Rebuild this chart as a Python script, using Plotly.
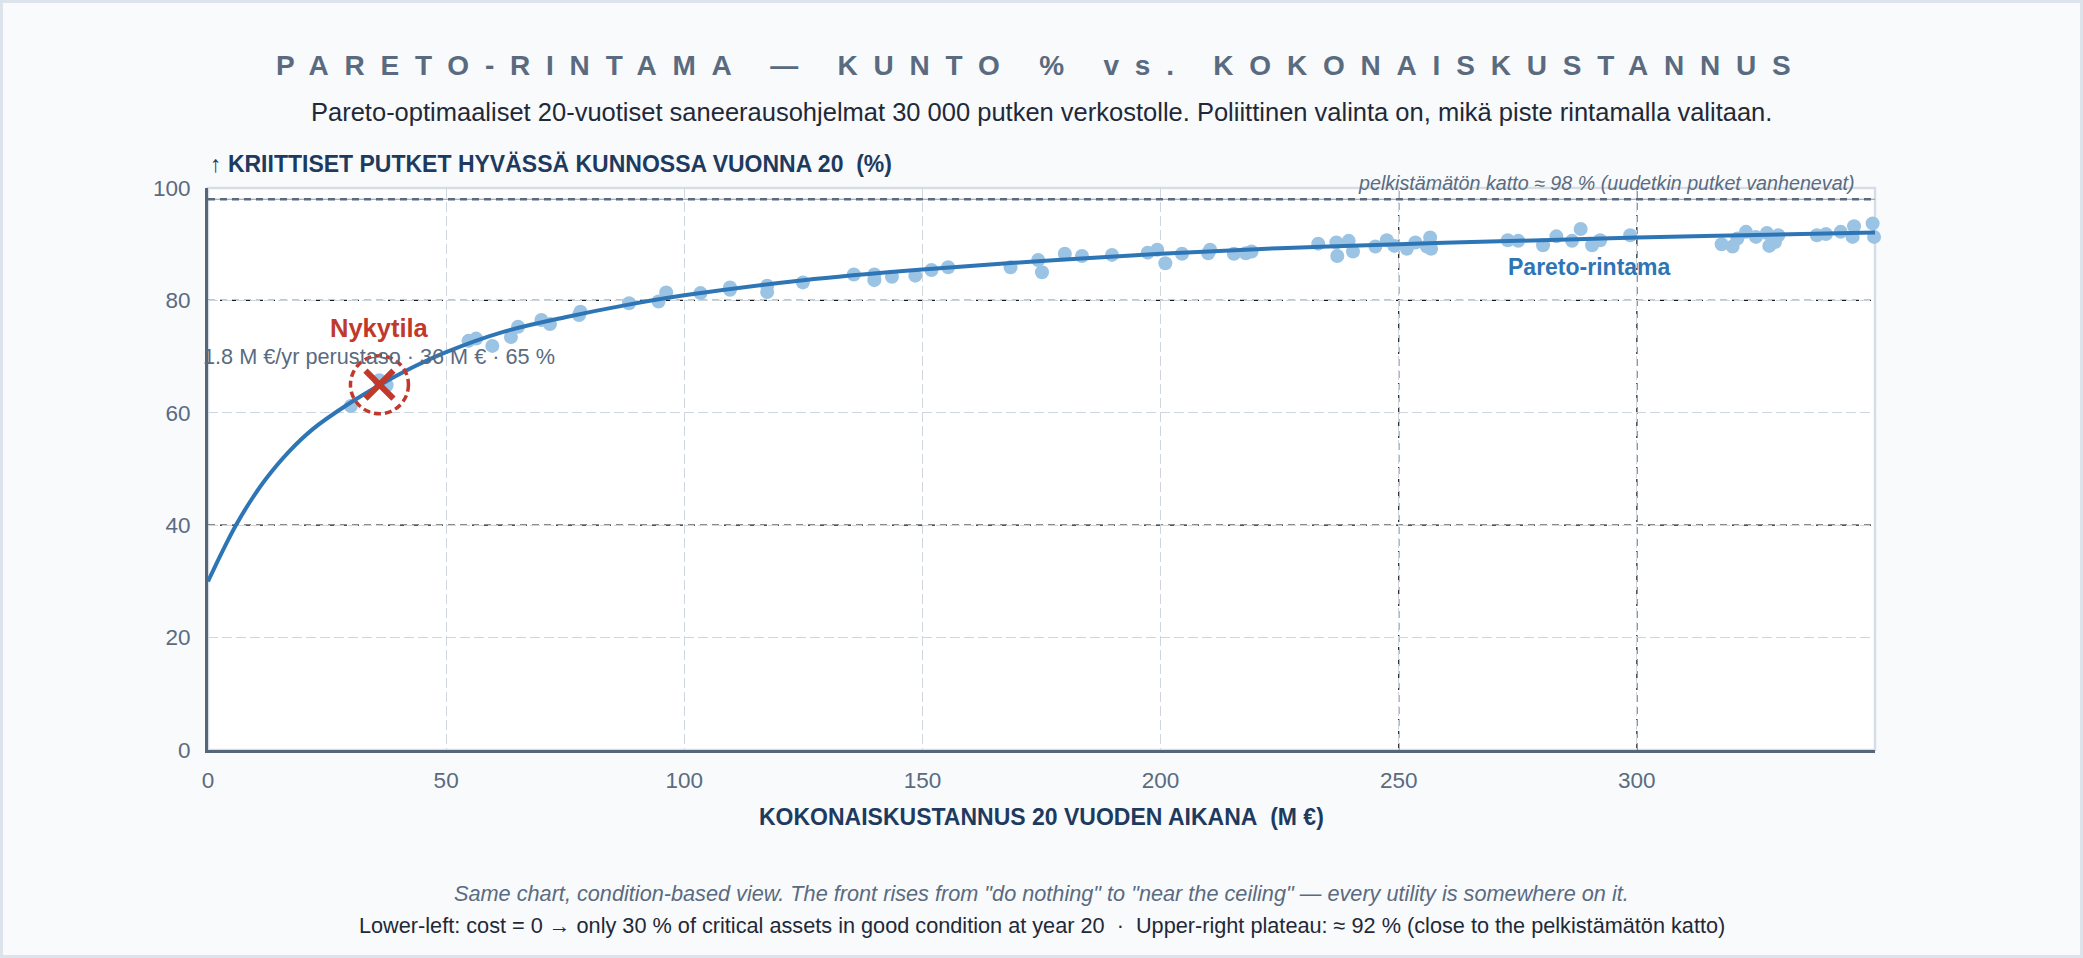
import plotly.graph_objects as go

# ---------------- data ----------------
FRONT_COST = [0, 3, 5.8, 9, 12.3, 17, 22, 29, 36, 43, 50, 62, 75, 88, 100,
              125, 150, 175, 200, 225, 250, 275, 300, 325, 350]
FRONT_PCT = [30, 35.3, 39.9, 44.4, 48.4, 53.1, 57.1, 61.3, 64.9, 68.1, 70.8, 74.4, 77.0,
             79.2, 80.9, 83.6, 85.5, 87.0, 88.3, 89.3, 90.0, 90.6, 91.2, 91.65, 92.1]

PROGRAM_COST = [30.0, 36.0, 37.5, 54.7, 56.3, 59.7, 63.6, 65.1, 70.0, 71.8,
                77.9, 78.2, 88.4, 94.6, 96.2, 103.4, 109.6, 109.6, 117.4, 117.4,
                124.9, 135.6, 139.9, 139.9, 143.6, 148.5, 151.9, 155.4, 168.5, 174.3,
                175.1, 179.9, 183.5, 189.8, 197.3, 199.3, 201.0, 204.5, 210.4, 210.0,
                215.4, 217.9, 219.1, 233.1, 236.9, 237.1, 239.5, 240.4, 245.1, 247.5,
                249.1, 251.7, 253.5, 255.9, 256.6, 256.8, 272.9, 275.1, 280.3, 283.1,
                286.4, 288.2, 290.6, 292.3, 298.6, 317.8, 320.1, 321.1, 322.9, 325.0,
                327.3, 327.8, 329.0, 329.7, 337.8, 339.7, 342.8, 345.6, 345.3, 349.5,
                349.8]
PROGRAM_PCT = [61.2, 65.8, 64.9, 72.8, 73.2, 71.9, 73.5, 75.3, 76.5, 75.8,
               77.4, 78.0, 79.5, 79.8, 81.4, 81.3, 81.9, 82.3, 82.6, 81.5,
               83.2, 84.6, 84.6, 83.6, 84.2, 84.4, 85.4, 85.9, 85.9, 87.2,
               85.0, 88.3, 87.9, 88.1, 88.5, 89.0, 86.6, 88.3, 89.0, 88.4,
               88.3, 88.4, 88.7, 90.1, 90.3, 87.9, 90.6, 88.7, 89.6, 90.7,
               89.7, 89.2, 90.3, 89.6, 91.2, 89.2, 90.7, 90.6, 89.8, 91.4,
               90.6, 92.7, 89.8, 90.7, 91.6, 90.0, 89.6, 91.0, 92.2, 91.3,
               92.0, 89.7, 90.4, 91.6, 91.6, 91.8, 92.2, 93.2, 91.3, 93.7,
               91.3]

CURRENT_COST = [36]
CURRENT_PCT = [65]
CEILING_PCT = 98
FRONT_LABEL_POS = [290, 86]

X_RANGE = [0, 350]
Y_RANGE = [0, 100]
X_TICKS = [0, 50, 100, 150, 200, 250, 300]
Y_TICKS = [0, 20, 40, 60, 80, 100]
EMPH_X = [250, 300]
EMPH_Y = [40, 80]

TITLE = "PARETO-RINTAMA — KUNTO % vs. KOKONAISKUSTANNUS"
SUBTITLE = ("Pareto-optimaaliset 20-vuotiset saneerausohjelmat 30 000 putken verkostolle. "
            "Poliittinen valinta on, mikä piste rintamalla valitaan.")
Y_TITLE = "↑ KRIITTISET PUTKET HYVÄSSÄ KUNNOSSA VUONNA 20\u00a0\u00a0(%)"
X_TITLE = "KOKONAISKUSTANNUS 20 VUODEN AIKANA\u00a0\u00a0(M €)"
CEILING_TEXT = "pelkistämätön katto ≈ 98 % (uudetkin putket vanhenevat)"
CURRENT_TITLE = "Nykytila"
CURRENT_TEXT = "1.8 M €/yr perustaso · 36 M € · 65 %"
FRONT_TEXT = "Pareto-rintama"
NOTE_1 = ("Same chart, condition-based view. The front rises from \"do nothing\" to "
          "\"near the ceiling\" — every utility is somewhere on it.")
NOTE_2 = ("Lower-left: cost = 0 → only 30 % of critical assets in good condition at year 20"
          "\u00a0\u00a0·\u00a0\u00a0Upper-right plateau: ≈ 92 % (close to the pelkistämätön katto)")

# ---------------- style ----------------
FONT = "Liberation Sans, Arial, Helvetica, sans-serif"
W, H = 2083, 958
ML, MR, MT, MB = 208, 208, 188, 208
PW, PH = W - ML - MR, H - MT - MB

SLATE = "#5a6b80"
NAVY = "#1e3a5f"
DARK = "#1f2937"
BLUE = "#2e75b6"
LIGHTBLUE = "#9bc4e4"
RED = "#c0392b"
AXIS = "#56667a"
GRID = "#cfd5dd"


def pxx(px):
    return (px - ML) / PW


def pxy(py):
    return (H - MB - py) / PH


fig = go.Figure()

fig.add_trace(go.Scatter(
    x=PROGRAM_COST, y=PROGRAM_PCT, mode="markers",
    marker=dict(size=14, color=LIGHTBLUE, line=dict(width=0)),
    cliponaxis=False, showlegend=False, hoverinfo="x+y"))

fig.add_trace(go.Scatter(
    x=FRONT_COST, y=FRONT_PCT, mode="lines",
    line=dict(color=BLUE, width=4, shape="spline", smoothing=1.0),
    showlegend=False, hoverinfo="x+y"))

fig.add_trace(go.Scatter(
    x=CURRENT_COST, y=CURRENT_PCT, mode="markers",
    marker=dict(symbol="x-thin", size=28, line=dict(color=RED, width=6)),
    cliponaxis=False, showlegend=False, hoverinfo="x+y"))

shapes = []
# page border
shapes.append(dict(type="rect", xref="paper", yref="paper",
                   x0=pxx(1.5), x1=pxx(W - 1.5), y0=pxy(H - 1.5), y1=pxy(1.5),
                   line=dict(color="#dde3ea", width=3), layer="below"))
# plot frame (light)
shapes.append(dict(type="rect", xref="paper", yref="paper", x0=0, x1=1, y0=0, y1=1,
                   line=dict(color="#d6dde6", width=2.5), layer="below"))
# emphasised dashed grid lines
for v in EMPH_X:
    shapes.append(dict(type="line", xref="x", yref="paper", x0=v, x1=v, y0=0, y1=1,
                       line=dict(color="#1a1a1a", width=1.2, dash="7px,5px"), layer="between"))
for v in EMPH_Y:
    shapes.append(dict(type="line", xref="paper", yref="y", x0=0, x1=1, y0=v, y1=v,
                       line=dict(color="#1a1a1a", width=1.2, dash="7px,5px"), layer="between"))
# ceiling line
shapes.append(dict(type="line", xref="paper", yref="y", x0=0, x1=1,
                   y0=CEILING_PCT, y1=CEILING_PCT,
                   line=dict(color="#8a96a6", width=1), layer="between"))
shapes.append(dict(type="line", xref="paper", yref="y", x0=0, x1=1,
                   y0=CEILING_PCT, y1=CEILING_PCT,
                   line=dict(color=SLATE, width=2.5, dash="7px,5px"), layer="between"))
# dashed circle around current state
shapes.append(dict(type="circle", xref="x", yref="y",
                   xsizemode="pixel", ysizemode="pixel",
                   xanchor=CURRENT_COST[0], yanchor=CURRENT_PCT[0],
                   x0=-29, x1=29, y0=-29, y1=29,
                   line=dict(color=RED, width=3.5, dash="7px,4px"), layer="above"))

annotations = [
    dict(text=f'<span style="letter-spacing:15.8px">{TITLE}</span>',
         xref="paper", yref="paper", x=0.5, y=pxy(65), xanchor="center", yanchor="middle",
         showarrow=False, font=dict(family=FONT, size=28, color=SLATE, weight="bold")),
    dict(text=SUBTITLE, xref="paper", yref="paper", x=0.5, y=pxy(112),
         xanchor="center", yanchor="middle", showarrow=False,
         font=dict(family=FONT, size=25.5, color=DARK)),
    dict(text=Y_TITLE, xref="paper", yref="paper", x=pxx(208), y=pxy(164),
         xanchor="left", yanchor="middle", showarrow=False,
         font=dict(family=FONT, size=23, color=NAVY, weight="bold")),
    dict(text=X_TITLE, xref="paper", yref="paper", x=0.5, y=pxy(817),
         xanchor="center", yanchor="middle", showarrow=False,
         font=dict(family=FONT, size=23, color=NAVY, weight="bold")),
    dict(text=CEILING_TEXT, xref="paper", yref="paper", x=pxx(1857), y=pxy(183),
         xanchor="right", yanchor="middle", showarrow=False,
         font=dict(family=FONT, size=19.7, color=SLATE, style="italic")),
    dict(text=CURRENT_TITLE, xref="x", yref="y", x=CURRENT_COST[0], y=CURRENT_PCT[0],
         yshift=57, xanchor="center", yanchor="middle", showarrow=False,
         font=dict(family=FONT, size=25.5, color=RED, weight="bold")),
    dict(text=CURRENT_TEXT, xref="x", yref="y", x=CURRENT_COST[0], y=CURRENT_PCT[0],
         yshift=28, xanchor="center", yanchor="middle", showarrow=False,
         font=dict(family=FONT, size=21.7, color=SLATE)),
    dict(text=FRONT_TEXT, xref="x", yref="y", x=FRONT_LABEL_POS[0], y=FRONT_LABEL_POS[1],
         xanchor="center", yanchor="middle", showarrow=False,
         font=dict(family=FONT, size=23, color=BLUE, weight="bold")),
    dict(text=NOTE_1, xref="paper", yref="paper", x=0.5, y=pxy(893),
         xanchor="center", yanchor="middle", showarrow=False,
         font=dict(family=FONT, size=21.7, color=SLATE, style="italic")),
    dict(text=NOTE_2, xref="paper", yref="paper", x=0.5, y=pxy(926),
         xanchor="center", yanchor="middle", showarrow=False,
         font=dict(family=FONT, size=21.7, color=DARK)),
]

axis_common = dict(
    showline=True, linecolor=AXIS, linewidth=3, mirror=False,
    showgrid=True, gridcolor=GRID, gridwidth=1, griddash="10px,4px",
    zeroline=False, ticks="", fixedrange=True,
    tickfont=dict(family=FONT, size=22.5, color=SLATE),
)

fig.update_layout(
    width=W, height=H,
    margin=dict(l=ML, r=MR, t=MT, b=MB, pad=0),
    paper_bgcolor="#f8fafc", plot_bgcolor="#ffffff",
    font=dict(family=FONT, color=SLATE),
    xaxis=dict(range=X_RANGE, tickmode="array", tickvals=X_TICKS,
               ticktext=[str(v) for v in X_TICKS], ticklabelstandoff=8, **axis_common),
    yaxis=dict(range=Y_RANGE, tickmode="array", tickvals=Y_TICKS,
               ticktext=[str(v) for v in Y_TICKS], ticklabelstandoff=10, **axis_common),
    shapes=shapes, annotations=annotations, showlegend=False,
)

fig.write_html("out.html", config={"displayModeBar": False},
               post_script="document.body.style.margin='0';document.body.style.overflow='hidden';")
